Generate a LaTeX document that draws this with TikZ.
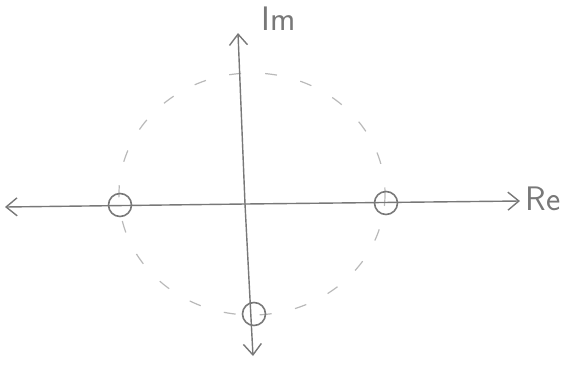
\documentclass[tikz,border=0pt]{standalone}
\usepackage{tikz}
\usetikzlibrary{arrows.meta}
\definecolor{pencil}{RGB}{120,120,120}
\definecolor{lightpencil}{RGB}{185,185,185}

\begin{document}
\begin{tikzpicture}[
    x=1pt, y=-1pt,
    axis/.style={-{Straight Barb[length=11pt,width=18pt]}, line width=1.4pt, pencil},
    unit/.style={lightpencil, line width=1.2pt, dash pattern=on 12pt off 24pt},
    zero/.style={draw=pencil, circle, line width=1.6pt, minimum width=20pt, minimum height=23pt, inner sep=0pt},
    label/.style={pencil, font=\sffamily\fontsize{34}{36}\selectfont}
]
\useasboundingbox (0,0) rectangle (575,365);

\coordinate (o) at (245,204);
\coordinate (left) at (5,207);
\coordinate (right) at (520,201);
\coordinate (top) at (238,33);
\coordinate (bottom) at (253,356);

% unit circle
\draw[unit] (252,194) ellipse [x radius=133, y radius=121];

% axes
\draw[axis] (o) -- (right);
\draw[axis] (o) -- (left);
\draw[axis] (o) -- (top);
\draw[axis] (o) -- (bottom);

\node[label, anchor=west] (re) at (522,199) {Re};
\node[label, anchor=west] (im) at (258,19) {Im};

% zeros
\node[zero] (z1) at (120,205) {};
\node[zero] (z2) at (386,203) {};
\node[zero] (z3) at (254,314) {};
\end{tikzpicture}
\end{document}
